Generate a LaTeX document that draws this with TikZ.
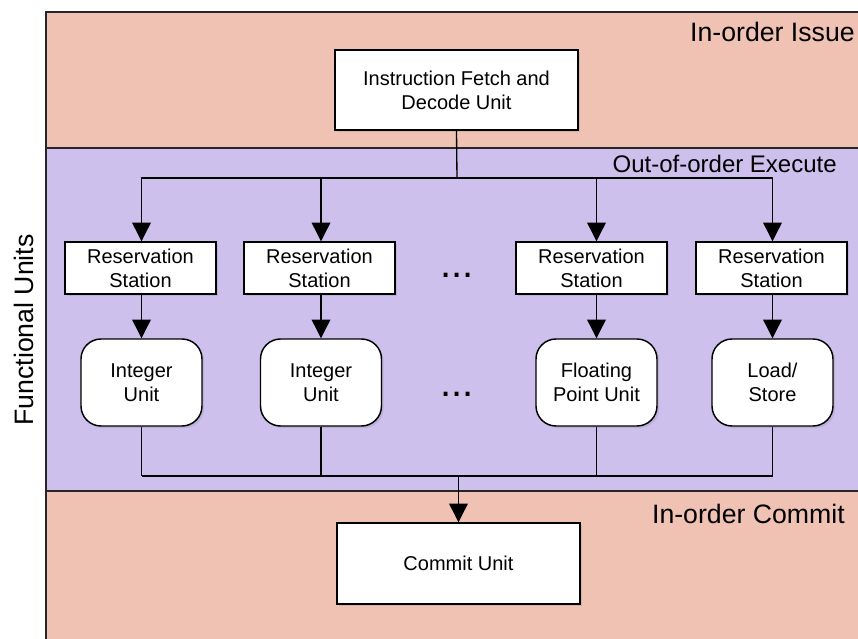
\documentclass[tikz,border=0pt]{standalone}
\usepackage{fontspec}
\setmainfont{Liberation Sans}
\usetikzlibrary{arrows.meta,shadows}
\definecolor{pinkbg}{RGB}{240,194,179}
\definecolor{purplebg}{RGB}{205,192,236}
\tikzset{
  regionline/.style={draw=black!85, line width=0.9pt},
  sqbox/.style={draw, fill=white, line width=1.1pt,
    drop shadow={shadow xshift=1.6pt, shadow yshift=-1.6pt, opacity=0.22},
    align=center, font=\fontsize{15}{18}\selectfont, inner sep=0pt},
  rndbox/.style={sqbox, rounded corners=15pt},
  conn/.style={line width=1pt},
  arr/.style={conn, -{Triangle[length=14pt,width=14pt]}},
  biglabel/.style={font=\fontsize{20}{24}\selectfont, inner sep=0pt},
  execlabel/.style={font=\fontsize{18}{22}\selectfont, inner sep=0pt},
  dotslabel/.style={font=\fontsize{30}{30}\selectfont, inner sep=0pt}
}
\begin{document}
\begin{tikzpicture}[x=0.75pt,y=-0.75pt]
\useasboundingbox (0,0) rectangle (858,639);
\begin{scope}
\clip (0,0) rectangle (858,639);
% regions
\fill[pinkbg] (46,12) rectangle (870,148);
\fill[purplebg] (46,148) rectangle (870,491);
\fill[pinkbg] (46,491) rectangle (870,650);
\draw[regionline] (870,12) -- (46,12) -- (46,650);
\draw[regionline] (46,148) -- (870,148);
\draw[regionline] (46,491) -- (870,491);

% labels
\node[biglabel, anchor=base east] (issue) at (855,41) {In-order Issue};
\node[execlabel, anchor=base east] (exec) at (837,172) {Out-of-order Execute};
\node[biglabel, anchor=base east] (commitlbl) at (845,523) {In-order Commit};
\node[biglabel, rotate=90, anchor=base] (funits) at (33,330) {Functional Units};

% boxes
\node[sqbox, minimum width=182.25pt, minimum height=60pt] (ifu) at (456.5,90) {Instruction Fetch and\\Decode Unit};

\node[sqbox, minimum width=113.25pt, minimum height=39pt] (rs1) at (140.5,268) {Reservation\\Station};
\node[sqbox, minimum width=113.25pt, minimum height=39pt] (rs2) at (319.5,268) {Reservation\\Station};
\node[sqbox, minimum width=113.25pt, minimum height=39pt] (rs3) at (591.5,268) {Reservation\\Station};
\node[sqbox, minimum width=113.25pt, minimum height=39pt] (rs4) at (771.5,268) {Reservation\\Station};

\node[rndbox, minimum width=90.75pt, minimum height=65.25pt] (fu1) at (141.5,382.5) {Integer\\Unit};
\node[rndbox, minimum width=90.75pt, minimum height=65.25pt] (fu2) at (321,382.5) {Integer\\Unit};
\node[rndbox, minimum width=90.75pt, minimum height=65.25pt] (fu3) at (596.5,382.5) {Floating\\Point Unit};
\node[rndbox, minimum width=90.75pt, minimum height=65.25pt] (fu4) at (772.5,382.5) {Load/\\Store};

\node[sqbox, minimum width=182.25pt, minimum height=60.75pt] (commit) at (458.5,563.5) {Commit Unit};

\node[dotslabel, anchor=base] (dots1) at (457,277) {...};
\node[dotslabel, anchor=base] (dots2) at (457,396) {...};

% connectors
\coordinate (split) at (457,178);
\coordinate (join) at (458.5,476);
\draw[conn] (ifu.south) -- (split);
\draw[conn] (split -| rs1) -- (split -| fu4);
\foreach \i in {1,2,3,4}{
  \draw[arr] (split -| fu\i) -- (fu\i |- rs\i.north);
  \draw[arr] (fu\i |- rs\i.south) -- (fu\i.north);
  \draw[conn] (fu\i.south) -- (fu\i |- join);
}
\draw[conn] (join -| fu1) -- (join -| fu4);
\draw[arr] (join) -- (commit.north);
\end{scope}
\end{tikzpicture}
\end{document}
